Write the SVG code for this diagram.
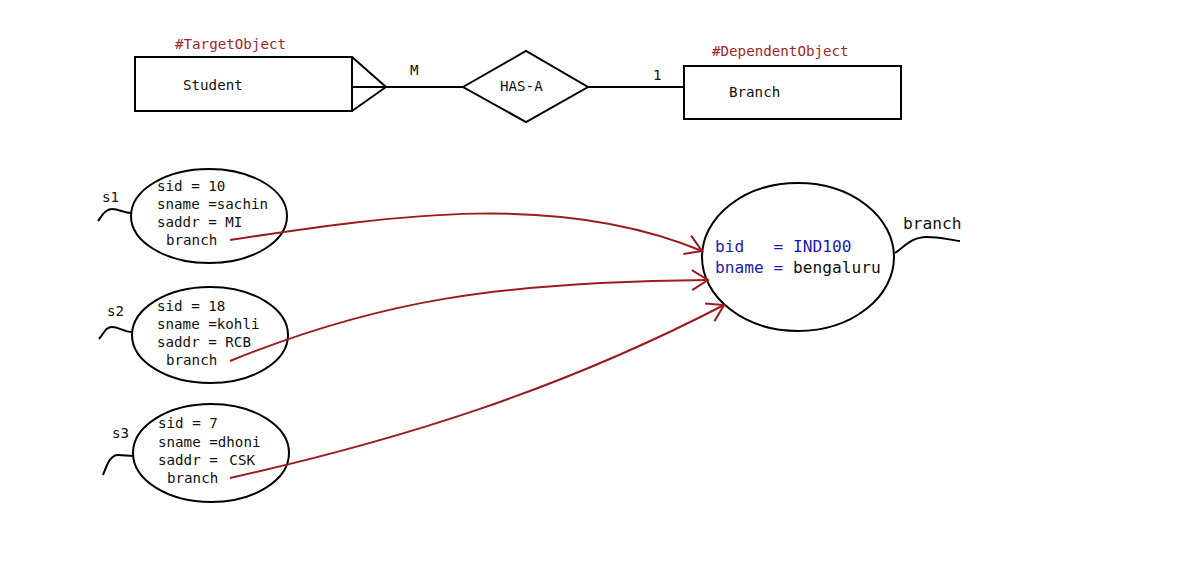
<svg xmlns="http://www.w3.org/2000/svg" width="1196" height="566" viewBox="0 0 1196 566">
<style>
.ln{stroke:#000;stroke-width:2;fill:none}
.sh{stroke:#000;stroke-width:2;fill:#fff}
.t{font-family:"DejaVu Sans Mono","Liberation Mono",monospace;font-size:14.2px;fill:#111}
.tb{font-family:"DejaVu Sans Mono","Liberation Mono",monospace;font-size:16.2px;fill:#111}
.blue{fill:#1c1cb4}
.red{fill:#a3262b}
.arr{stroke:#9b1c1f;stroke-width:2;fill:none;marker-end:url(#ah)}
</style>
<defs>
<marker id="ah" markerUnits="userSpaceOnUse" markerWidth="30" markerHeight="30" refX="0" refY="0" viewBox="-20 -15 25 30" orient="auto">
<path d="M-16,-10 L0,0 L-16,10" stroke="#9b1c1f" stroke-width="2" fill="none"/>
</marker>
</defs>
<rect width="1196" height="566" fill="#fff"/>
<g id="student">
<rect class="sh" x="135" y="57" width="217" height="54"/>
<text class="t red" x="175" y="49">#TargetObject</text>
<text class="t" x="183" y="90">Student</text>
</g>
<g id="has-a">
<polygon class="sh" points="463,87 526,51 588,87 526,122"/>
<text class="t" x="500" y="91">HAS-A</text>
</g>
<g id="branch-entity">
<rect class="sh" x="684" y="66" width="217" height="53"/>
<text class="t red" x="712" y="56">#DependentObject</text>
<text class="t" x="729" y="97">Branch</text>
</g>
<g id="er-connectors">
<path class="ln" d="M352,57 L386,87 L352,111 M352,87 L463,87"/>
<path class="ln" d="M588,87 L684,87"/>
<text class="t" x="410" y="75">M</text>
<text class="t" x="653" y="80">1</text>
</g>
<g id="s1">
<ellipse class="sh" cx="209" cy="216" rx="78" ry="47"/>
<path class="ln" d="M98,221 C103,214 106,209 112,209 C119,209 124,213 131,213"/>
<text class="t" x="102" y="202">s1</text>
<text class="t" x="157" y="191">sid = 10</text>
<text class="t" x="157" y="209">sname =sachin</text>
<text class="t" x="157" y="227">saddr = MI</text>
<text class="t" x="166" y="245">branch</text>
</g>
<g id="s2">
<ellipse class="sh" cx="210" cy="335" rx="78" ry="48"/>
<path class="ln" d="M99,339 C104,333 106,327 112,327 C119,327 124,332 132,332"/>
<text class="t" x="107" y="316">s2</text>
<text class="t" x="157" y="311">sid = 18</text>
<text class="t" x="157" y="329">sname =kohli</text>
<text class="t" x="157" y="347">saddr = RCB</text>
<text class="t" x="166" y="365">branch</text>
</g>
<g id="s3">
<ellipse class="sh" cx="211" cy="453" rx="78" ry="49"/>
<path class="ln" d="M103,475 C107,465 110,455 118,455 C124,455 128,456 133,456"/>
<text class="t" x="112" y="438">s3</text>
<text class="t" x="158" y="428">sid = 7</text>
<text class="t" x="158" y="447">sname =dhoni</text>
<text class="t" x="158" y="465">saddr = <tspan dx="3">CSK</tspan></text>
<text class="t" x="167" y="483">branch</text>
</g>
<g id="branch-object">
<ellipse class="sh" cx="798" cy="257" rx="96" ry="74"/>
<path class="ln" d="M895,253 C905,246 912,237 927,237 C940,237 950,240 960,241"/>
<text class="tb" x="903" y="229">branch</text>
<text class="tb blue" x="715" y="252" xml:space="preserve">bid   = IND100</text>
<text class="tb" x="715" y="273" xml:space="preserve"><tspan class="blue">bname = </tspan>bengaluru</text>
</g>
<g id="connectors">
<path class="arr" d="M230,240 C400,214 560,192 702,251"/>
<path class="arr" d="M230,361 C380,300 500,282 708,280"/>
<path class="arr" d="M230,478 C400,440 560,390 724,305"/>
</g>
</svg>
